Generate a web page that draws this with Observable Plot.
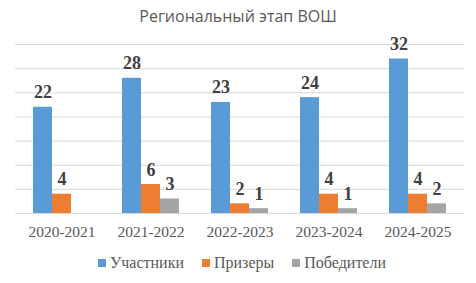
<!DOCTYPE html>
<html>
<head>
<meta charset="utf-8">
<script src="https://cdn.jsdelivr.net/npm/d3@7"></script>
<script src="https://cdn.jsdelivr.net/npm/@observablehq/plot@0.6"></script>
<style>
  body { margin: 0; background: #fff; width: 476px; height: 283px; overflow: hidden; }
  #title { position: absolute; left: 0; top: 5px; width: 476px; text-align: center; font-family: "Open Sans", sans-serif; font-size: 16px; color: #595959; line-height: 22px; }
  #grid, #chart { position: absolute; left: 0; top: 30px; }
  #legend { position: absolute; left: 0; top: 253px; width: 476px; display: flex; justify-content: center; padding-left: 8px; box-sizing: border-box; font-family: "Liberation Serif", "Times New Roman", serif; font-size: 16px; color: #595959; line-height: 20px; }
  .item { display: flex; align-items: center; margin: 0 9px; }
  .item span { font-family: "Liberation Serif", "Times New Roman", serif; }
  .sw { width: 8px; height: 8px; margin-right: 4px; }
</style>
</head>
<body>
<div id="title"></div>
<div id="grid"></div>
<div id="chart"></div>
<div id="legend"></div>
<script>
const titleText = "Региональный этап ВОШ";
const categories = ["2020-2021", "2021-2022", "2022-2023", "2023-2024", "2024-2025"];
const series = ["Участники", "Призеры", "Победители"];
const participants = [22, 28, 23, 24, 32];
const prizewinners = [4, 6, 2, 4, 4];
const winners = [null, 3, 1, 1, 2];
const colors = ["#5B9BD5", "#ED7D31", "#A5A5A5"];
const yTicks = [0, 5, 10, 15, 20, 25, 30, 35];

const seriesValues = [participants, prizewinners, winners];
const data = [];
categories.forEach((c, i) => {
  series.forEach((s, j) => {
    const v = seriesValues[j][i];
    if (v != null) data.push({category: c, series: s, value: v});
  });
});

document.getElementById("title").textContent = titleText;

const common = {
  width: 476,
  height: 220,
  marginTop: 14,
  marginBottom: 37,
  marginLeft: 15,
  marginRight: 12,
  y: {domain: [0, 35], axis: null}
};

const grid = Plot.plot({
  ...common,
  style: {background: "#fff"},
  marks: [
    Plot.ruleY(yTicks, {y: d => d, stroke: "#d9d9d9", strokeWidth: 1})
  ]
});
document.getElementById("grid").appendChild(grid);

const chart = Plot.plot({
  ...common,
  style: {background: "transparent"},
  fx: {domain: categories, paddingInner: 1/3, paddingOuter: 1/6, label: null},
  x: {domain: series, padding: 0, axis: null},
  color: {domain: series, range: colors},
  marks: [
    Plot.barY(data, {fx: "category", x: "series", y: "value", fill: "series", inset: 0}),
    Plot.text(data, {fx: "category", x: "series", y: "value", text: d => String(d.value), lineAnchor: "bottom", dy: -9, fontFamily: "Liberation Serif", fontWeight: "bold", fontSize: 18, fill: "#404040"}),
    Plot.axisFx({anchor: "bottom", tickSize: 0, tickPadding: 12, fontSize: 15.5, fontFamily: "Liberation Serif", color: "#595959", label: null})
  ]
});
document.getElementById("chart").appendChild(chart);

const legend = document.getElementById("legend");
series.forEach((s, j) => {
  const item = document.createElement("div");
  item.className = "item";
  const sw = document.createElement("div");
  sw.className = "sw";
  sw.style.background = colors[j];
  const t = document.createElement("span");
  t.textContent = s;
  item.appendChild(sw);
  item.appendChild(t);
  legend.appendChild(item);
});
</script>
</body>
</html>
